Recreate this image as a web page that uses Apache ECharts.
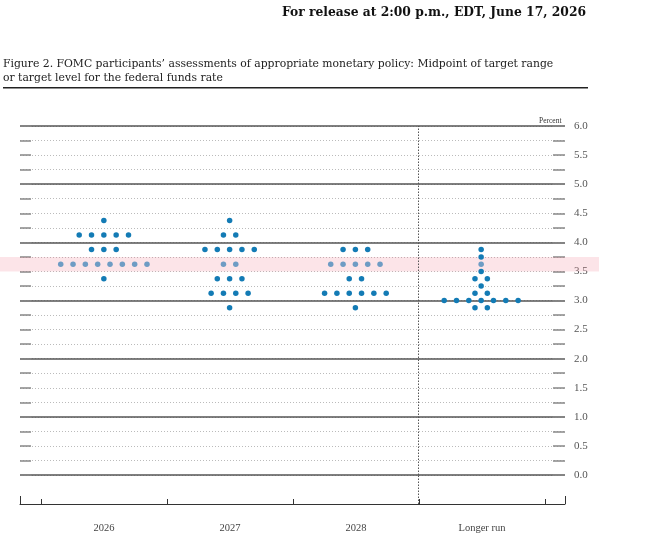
<!DOCTYPE html>
<html>
<head>
<meta charset="utf-8">
<script src="https://cdn.jsdelivr.net/npm/echarts@6/dist/echarts.min.js"></script>
<style>
  html, body { margin: 0; padding: 0; background: #fff; }
  #chart { width: 667px; height: 541px; }
</style>
</head>
<body>
<div id="chart"></div>
<script>
var categories = ['2026', '2027', '2028', 'Longer run'];

// midpoint values and number of participants at each
var rates2026 = [4.375, 4.125, 3.875, 3.625, 3.375];
var counts2026 = [1, 5, 3, 8, 1];
var rates2027 = [4.375, 4.125, 3.875, 3.625, 3.375, 3.125, 2.875];
var counts2027 = [1, 2, 5, 2, 3, 4, 1];
var rates2028 = [3.875, 3.625, 3.375, 3.125, 2.875];
var counts2028 = [3, 5, 2, 6, 1];
var ratesLonger = [3.875, 3.75, 3.625, 3.5, 3.375, 3.25, 3.125, 3.0, 2.875];
var countsLonger = [1, 1, 1, 1, 2, 1, 2, 7, 2];

var bandRange = [3.5, 3.75];
var dividerAt = 3;

var chart = echarts.init(document.getElementById('chart'));

var FONT = '"Liberation Serif", "DejaVu Serif", serif';
var TITLE_FONT = '"DejaVu Serif", serif';
var DOT_GAP = 0.098;

// lay dots of one column side by side around the column centre
function dots(catIndex, rates, counts) {
    var out = [];
    for (var i = 0; i < rates.length; i++) {
        var n = counts[i];
        for (var j = 0; j < n; j++) {
            out.push([catIndex + 0.5 + (j - (n - 1) / 2) * DOT_GAP, rates[i]]);
        }
    }
    return out;
}

var dotData = [].concat(
    dots(0, rates2026, counts2026),
    dots(1, rates2027, counts2027),
    dots(2, rates2028, counts2028),
    dots(3, ratesLonger, countsLonger)
);

var option = {
    animation: false,
    backgroundColor: '#fff',
    title: [
        {
            text: 'For release at 2:00 p.m., EDT, June 17, 2026',
            right: 81, top: 7, padding: 0,
            textStyle: { fontFamily: TITLE_FONT, fontSize: 12.3, fontWeight: 'bold', color: '#111' }
        },
        {
            text: 'Figure 2. FOMC participants\u2019 assessments of appropriate monetary policy: Midpoint of target range\nor target level for the federal funds rate',
            left: 3, top: 57, padding: 0,
            textStyle: { fontFamily: TITLE_FONT, fontSize: 10.8, fontWeight: 'normal', color: '#222', lineHeight: 14 }
        },
        {
            text: 'Percent',
            left: 539, top: 117, padding: 0,
            textStyle: { fontFamily: FONT, fontSize: 7.5, fontWeight: 'normal', color: '#333' }
        }
    ],
    graphic: [
        { type: 'rect', shape: { x: 3, y: 87, width: 585, height: 1.5 }, style: { fill: '#222' } }
    ],
    grid: [
        { left: 20, right: 102, top: 126, bottom: 66 },
        { left: 20, right: 102, top: 475, bottom: 37 },
        { left: 41, right: 122, top: 475, bottom: 37 },
        { left: 0, right: 68, top: 126, bottom: 66 }
    ],
    xAxis: [
        { gridIndex: 0, type: 'value', min: -1 / 6, max: 25 / 6, show: false },
        {
            gridIndex: 1, type: 'value', min: -1 / 6, max: 25 / 6, interval: 13 / 3,
            axisLine: { onZero: false, lineStyle: { color: '#333', width: 1 } },
            axisTick: { show: true, inside: true, length: 8, lineStyle: { color: '#333' } },
            axisLabel: { show: false },
            splitLine: { show: false }
        },
        {
            // category names
            gridIndex: 2, type: 'category', data: categories, boundaryGap: true,
            axisLine: { show: false, onZero: false },
            axisTick: { show: false },
            axisLabel: { margin: 19, fontFamily: FONT, fontSize: 10.5, color: '#444' },
            splitLine: { show: false }
        },
        { gridIndex: 3, type: 'value', min: 0, max: 1, show: false },
        {
            // short ticks between the columns
            gridIndex: 2, type: 'value', min: 0, max: categories.length, interval: 1,
            position: 'bottom',
            axisLine: { show: true, onZero: false, lineStyle: { color: '#333', width: 1 } },
            axisTick: { show: true, inside: true, length: 5, lineStyle: { color: '#333' } },
            axisLabel: { show: false },
            splitLine: { show: false }
        }
    ],
    yAxis: [
        {
            gridIndex: 0, type: 'value', min: 0, max: 6, interval: 0.25, position: 'left',
            axisLine: { show: false, onZero: false },
            axisTick: { inside: true, length: 11, lineStyle: { color: '#888', width: 1.5 } },
            axisLabel: { show: false },
            splitLine: { lineStyle: { color: '#bbb', type: [1, 2], width: 1 } }
        },
        {
            gridIndex: 0, type: 'value', min: 0, max: 6, interval: 0.25, position: 'right',
            axisLine: { show: false, onZero: false },
            axisTick: { inside: true, length: 12, lineStyle: { color: '#888', width: 1.5 } },
            axisLabel: {
                margin: 9, fontFamily: FONT, fontSize: 11, color: '#555',
                formatter: function (v) { return (v * 2) % 1 === 0 ? v.toFixed(1) : ''; }
            },
            splitLine: { show: false }
        },
        {
            gridIndex: 0, type: 'value', min: 0, max: 6, interval: 1, position: 'left',
            axisLine: { show: false, onZero: false }, axisTick: { show: false }, axisLabel: { show: false },
            splitLine: { lineStyle: { color: '#555', width: 1.6 } }
        },
        { gridIndex: 1, type: 'value', min: 0, max: 1, show: false },
        { gridIndex: 2, type: 'value', min: 0, max: 1, show: false },
        { gridIndex: 3, type: 'value', min: 0, max: 6, show: false }
    ],
    series: [
        {
            // pink band
            type: 'line', xAxisIndex: 3, yAxisIndex: 5, data: [], z: 1,
            markArea: {
                silent: true,
                itemStyle: { color: 'rgba(240,120,140,0.2)' },
                data: [[{ yAxis: bandRange[0] }, { yAxis: bandRange[1] }]]
            }
        },
        {
            type: 'scatter', xAxisIndex: 0, yAxisIndex: 0, z: 3,
            symbolSize: 5.5,
            data: dotData,
            itemStyle: {
                opacity: 1,
                color: function (p) {
                    var v = p.value[1];
                    return (v > bandRange[0] && v < bandRange[1]) ? '#6e9cc4' : '#137bb5';
                }
            },
            markLine: {
                silent: true, symbol: 'none', label: { show: false },
                lineStyle: { color: '#555', type: [1.5, 1.5], width: 1 },
                data: [{ xAxis: dividerAt }]
            }
        },
        {
            type: 'line', xAxisIndex: 1, yAxisIndex: 3, data: [],
            markLine: {
                silent: true, symbol: 'none', label: { show: false },
                lineStyle: { color: '#555', type: [1.5, 1.5], width: 1 },
                data: [{ xAxis: dividerAt }]
            }
        }
    ]
};

chart.setOption(option);
</script>
</body>
</html>
